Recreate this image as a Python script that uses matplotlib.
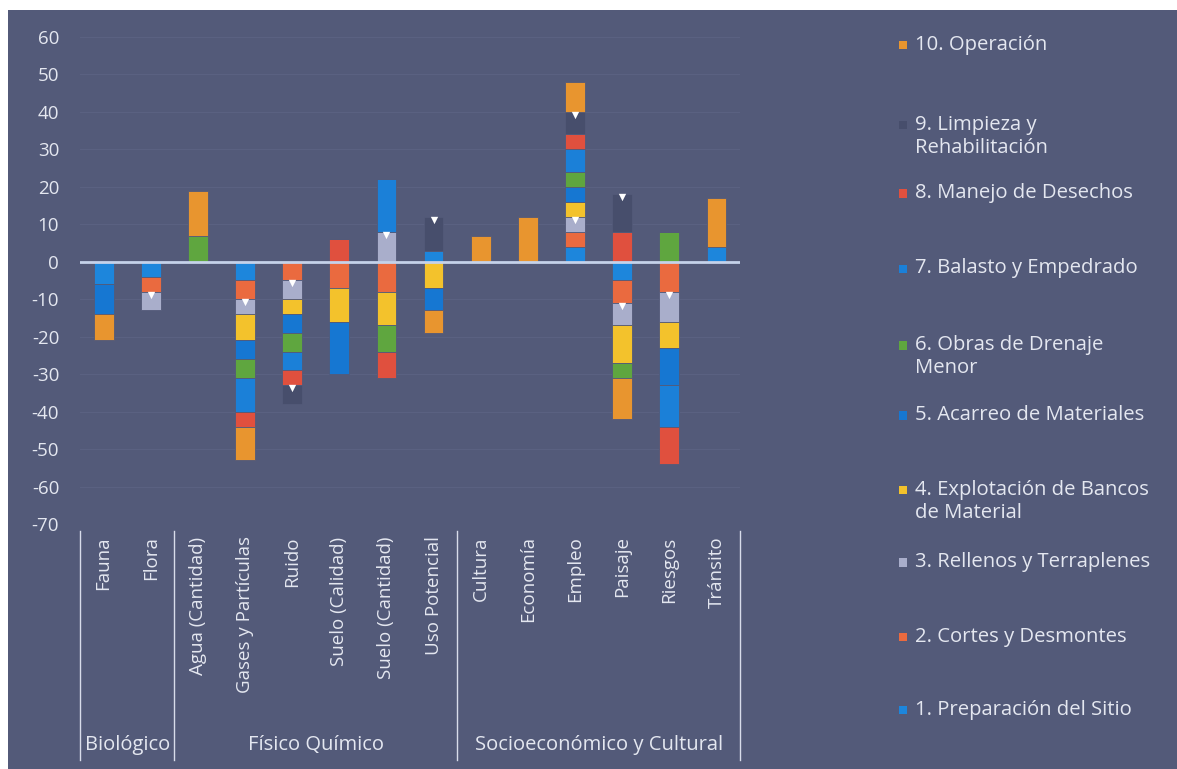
import numpy as np
import matplotlib
matplotlib.use("Agg")
import matplotlib.pyplot as plt
from matplotlib import transforms
from matplotlib.patches import Rectangle

plt.rcParams['font.family'] = ['Open Sans', 'DejaVu Sans']

# categorias (nivel 1) y grupos (nivel 2)
categorias = ['Fauna', 'Flora', 'Agua (Cantidad)', 'Gases y Partículas', 'Ruido',
              'Suelo (Calidad)', 'Suelo (Cantidad)', 'Uso Potencial', 'Cultura',
              'Economía', 'Empleo', 'Paisaje', 'Riesgos', 'Tránsito']
grupos = ['Biológico', 'Físico Químico', 'Socioeconómico y Cultural']
grupo_tam = [2, 6, 6]

series = ['1. Preparación del Sitio', '2. Cortes y Desmontes', '3. Rellenos y Terraplenes',
          '4. Explotación de Bancos\nde Material', '5. Acarreo de Materiales',
          '6. Obras de Drenaje\nMenor', '7. Balasto y Empedrado', '8. Manejo de Desechos',
          '9. Limpieza y\nRehabilitación', '10. Operación']

# valores, un arreglo por actividad
preparacion = [-6, -4, 0, -5, 0, 0, 0, 3, 0, 0, 4, -5, 0, 4]
cortes      = [0, -4, 0, -5, -5, -7, -8, 0, 0, 0, 4, -6, -8, 0]
rellenos    = [0, -5, 0, -4, -5, 0, 8, 0, 0, 0, 4, -6, -8, 0]
explotacion = [0, 0, 0, -7, -4, -9, -9, -7, 0, 0, 4, -10, -7, 0]
acarreo     = [-8, 0, 0, -5, -5, -14, 0, -6, 0, 0, 4, 0, -10, 0]
drenaje     = [0, 0, 7, -5, -5, 0, -7, 0, 0, 0, 4, -4, 8, 0]
balasto     = [0, 0, 0, -9, -5, 0, 14, 0, 0, 0, 6, 0, -11, 0]
desechos    = [0, 0, 0, -4, -4, 6, -7, 0, 0, 0, 4, 8, -10, 0]
limpieza    = [0, 0, 0, 0, -5, 0, 0, 9, 0, 0, 6, 10, 0, 0]
operacion   = [-7, 0, 12, -9, 0, 0, 0, -6, 7, 12, 8, -11, 0, 13]

datos = [preparacion, cortes, rellenos, explotacion, acarreo,
         drenaje, balasto, desechos, limpieza, operacion]
colores = ['#1d86dc', '#ea6a3f', '#a9aecb', '#f3c22c', '#1677d2',
           '#5fa63f', '#1b80d8', '#e0503e', '#474e6c', '#e8952f']

fondo = '#535a79'
texto = '#e4e7f0'

fig = plt.figure(figsize=(11.77, 7.69), dpi=100)
fig.patch.set_facecolor('white')
fig.patches.append(Rectangle((0.007, 0.0), 0.993, 0.987, transform=fig.transFigure,
                             facecolor=fondo, edgecolor='none', zorder=-10))

ax = fig.add_axes([0.068, 0.3186, 0.5607, 0.6333])
ax.set_facecolor('none')

x = np.arange(len(categorias))
pos = np.zeros(len(categorias))
neg = np.zeros(len(categorias))
for i, (vals, col) in enumerate(zip(datos, colores)):
    v = np.array(vals, dtype=float)
    base = np.where(v >= 0, pos, neg)
    ax.bar(x, v, 0.42, bottom=base, color=col, edgecolor=fondo, linewidth=0.6, zorder=3)
    # muesca blanca en la cara superior de rellenos y limpieza
    if i in (2, 8):
        tope = np.where(v >= 0, base + v, base)
        m = v != 0
        ax.scatter(x[m], tope[m] - 0.8, marker='v', s=28, color='white', zorder=5, lw=0)
    pos = pos + np.clip(v, 0, None)
    neg = neg + np.clip(v, None, 0)

for yy in range(-70, 61, 10):
    ax.axhline(yy, color='#5a6181', lw=0.8, zorder=1)
ax.axhline(0, color='#c5d2ea', lw=2, zorder=4)

ax.set_xlim(-0.5, len(categorias) - 0.5)
ax.set_ylim(-70, 60)
ax.set_yticks(range(-70, 61, 10))
ax.set_yticklabels([str(t) for t in range(-70, 61, 10)], fontsize=13.5, color=texto)
ax.set_xticks(x)
ax.set_xticklabels(categorias, rotation=90, fontsize=13.5, color=texto, va='top')
ax.tick_params(length=0)
ax.tick_params(axis='y', pad=15)
ax.tick_params(axis='x', pad=9)
for s in ax.spines.values():
    s.set_visible(False)

# eje de categorias en dos niveles
tr = transforms.blended_transform_factory(ax.transData, fig.transFigure)
inicio = 0
bordes = [-0.5]
for g, n in zip(grupos, grupo_tam):
    centro = inicio + (n - 1) / 2
    ax.text(centro, 0.031, g, transform=tr, ha='center', va='center',
            fontsize=14.5, color=texto)
    inicio += n
    bordes.append(inicio - 0.5)
for b in bordes:
    ax.plot([b, b], [0.012, 0.31], transform=tr, color='#d8dcea', lw=1, clip_on=False)

# leyenda (orden invertido como en Excel)
ley_y = [0.942, 0.838, 0.749, 0.651, 0.551, 0.460, 0.363, 0.269, 0.172, 0.077]
for (nombre, col), yy in zip(list(zip(series, colores))[::-1], ley_y):
    fig.patches.append(Rectangle((0.764, yy - 0.006), 0.0068, 0.011, transform=fig.transFigure,
                                 facecolor=col, edgecolor='none'))
    fig.text(0.777, yy + 0.013, nombre, ha='left', va='top', fontsize=14.6,
             color=texto, linespacing=1.2)

fig.savefig('out.png', dpi=100, facecolor=fig.get_facecolor())
